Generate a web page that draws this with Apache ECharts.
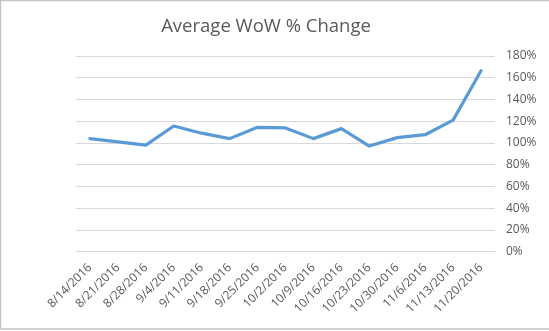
<!DOCTYPE html>
<html>
<head>
<meta charset="utf-8">
<script src="https://cdn.jsdelivr.net/npm/echarts@6/dist/echarts.min.js"></script>
<style>
html,body{margin:0;padding:0;background:#fff;}
#chart{width:549px;height:331px;}
</style>
</head>
<body>
<div id="chart"></div>
<script>
const categories = ["8/14/2016","8/21/2016","8/28/2016","9/4/2016","9/11/2016","9/18/2016","9/25/2016","10/2/2016","10/9/2016","10/16/2016","10/23/2016","10/30/2016","11/6/2016","11/13/2016","11/20/2016"];
const wowChange = [104, 101, 98, 115.6, 109, 104, 114.4, 113.8, 104, 113.2, 97.2, 104.9, 107.6, 121, 166.5];
const yTicks = [0, 20, 40, 60, 80, 100, 120, 140, 160, 180];
const titleText = "Average WoW % Change";

const chart = echarts.init(document.getElementById('chart'), null, {renderer:'canvas'});
chart.setOption({
  backgroundColor: '#ffffff',
  animation: false,
  title: {
    text: titleText,
    left: 261, top: 12, textAlign: 'center',
    textStyle: {fontFamily: 'Open Sans', fontSize: 18.5, fontWeight: 'normal', color: '#595959'}
  },
  graphic: [{
    type: 'rect', silent: true,
    shape: {x: 0.5, y: 0.5, width: 600, height: 328.5},
    style: {fill: 'none', stroke: '#c4c4c4', lineWidth: 1.5}
  }],
  grid: {left: 76, right: 54, top: 56, bottom: 79.3, containLabel: false},
  xAxis: {
    type: 'category',
    data: categories,
    boundaryGap: true,
    axisLine: {show: true, lineStyle: {color: '#d9d9d9', width: 1}},
    axisTick: {show: false},
    axisLabel: {rotate: 45, interval: 0, margin: 14, fontFamily: 'Open Sans', fontSize: 12, color: '#595959'}
  },
  yAxis: {
    type: 'value',
    position: 'right',
    min: yTicks[0], max: yTicks[yTicks.length - 1], interval: 20,
    axisLine: {show: false},
    axisTick: {show: false},
    splitLine: {lineStyle: {color: '#d9d9d9', width: 1}},
    axisLabel: {margin: 11, fontFamily: 'Open Sans', fontSize: 12, color: '#595959', formatter: v => v + '%'}
  },
  series: [{
    type: 'line',
    data: wowChange,
    symbol: 'none',
    lineStyle: {color: '#5B9BD5', width: 3.2, join: 'round', cap: 'round'}
  }]
});
</script>
</body>
</html>
